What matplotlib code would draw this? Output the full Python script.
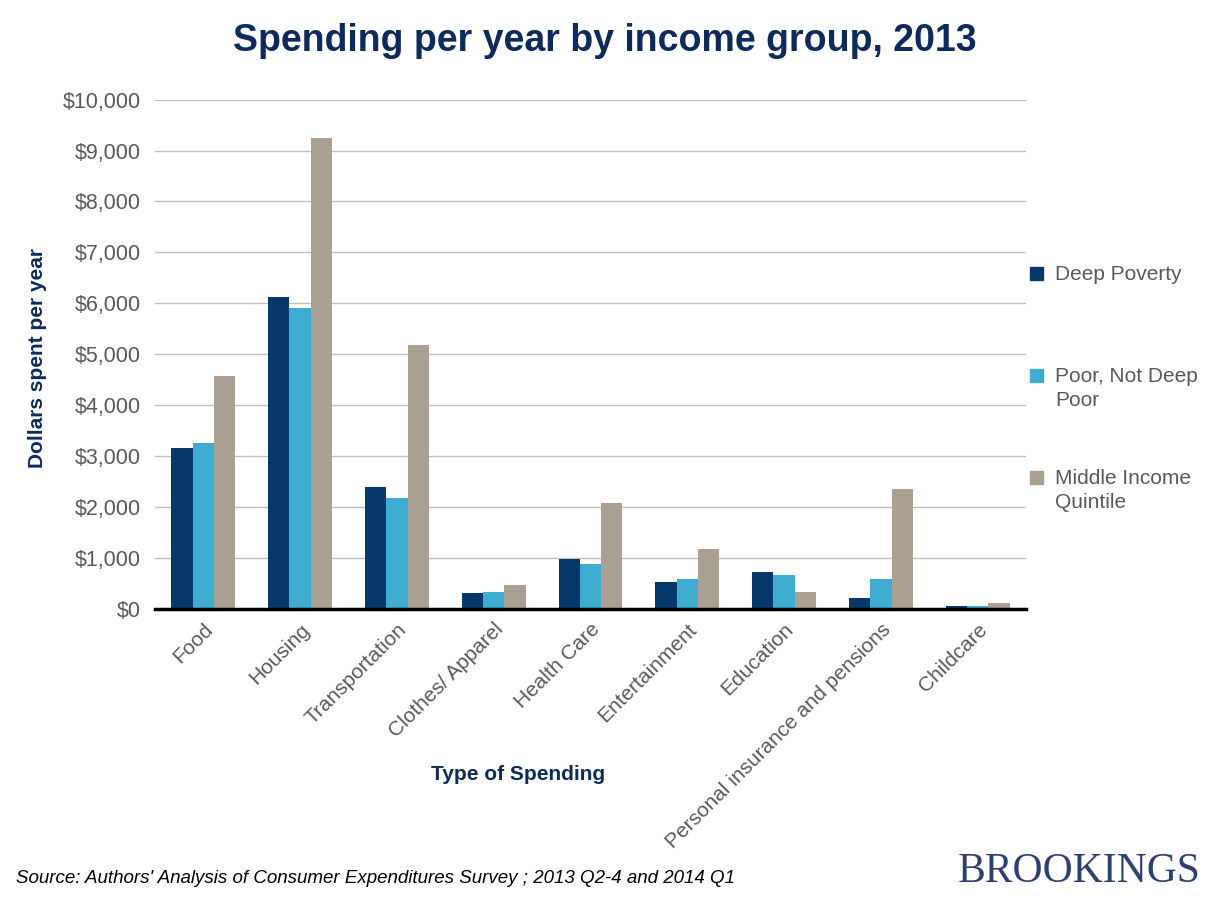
import numpy as np
import matplotlib
matplotlib.use("Agg")
import matplotlib.pyplot as plt
from matplotlib.patches import Rectangle

plt.rcParams['font.family'] = ['Liberation Sans', 'DejaVu Sans']

categories = ['Food', 'Housing', 'Transportation', 'Clothes/ Apparel', 'Health Care',
              'Entertainment', 'Education', 'Personal insurance and pensions', 'Childcare']
series_names = ['Deep Poverty', 'Poor, Not Deep\nPoor', 'Middle Income\nQuintile']
deep_poverty = [3150, 6120, 2400, 314, 982, 530, 727, 216, 59]
poor_not_deep = [3250, 5900, 2170, 334, 884, 590, 668, 590, 50]
middle_income = [4570, 9250, 5180, 470, 2080, 1180, 334, 2360, 118]
yticks = list(range(0, 10001, 1000))

navy = '#0c2a5e'
grey_txt = '#595959'
colors = ['#06386b', '#3eabd0', '#a9a091']

fig = plt.figure(figsize=(12.1, 9.06), dpi=100)
ax = fig.add_axes([0.128, 0.328, 0.72, 0.562])

x = np.arange(len(categories))
w = 0.22
for i, vals in enumerate([deep_poverty, poor_not_deep, middle_income]):
    ax.bar(x + (i - 1) * w, vals, w, color=colors[i], zorder=3)

ax.set_xlim(-0.5, len(categories) - 0.5)
ax.set_ylim(0, 10000)
ax.set_yticks(yticks)
ax.set_yticklabels(['${:,}'.format(v) for v in yticks], fontsize=15.5, color=grey_txt)
ax.set_xticks(x)
ax.set_xticklabels(categories, rotation=45, ha='right', rotation_mode='anchor',
                   fontsize=15, color=grey_txt)
ax.tick_params(axis='y', length=0, pad=10)
ax.tick_params(axis='x', length=0, pad=8)
ax.grid(axis='y', color='#bfbfbf', linewidth=1, zorder=0)
for s in ['top', 'right', 'left']:
    ax.spines[s].set_visible(False)
ax.spines['bottom'].set_linewidth(2.5)
ax.spines['bottom'].set_color('black')
ax.spines['bottom'].set_zorder(4)

fig.text(0.031, 0.605, 'Dollars spent per year', fontsize=15, fontweight='bold', color=navy,
         rotation=90, ha='center', va='center')
fig.text(0.428, 0.139, 'Type of Spending', fontsize=15, fontweight='bold', color=navy, ha='center')

fig.suptitle('Spending per year by income group, 2013', x=0.5, y=0.975, fontsize=27,
             fontweight='bold', color=navy)

# legend drawn by hand so the swatch lines up with the first text line
leg_y = [273, 375, 477]
for i, name in enumerate(series_names):
    yc = 1 - leg_y[i] / 906
    fig.patches.append(Rectangle((1030 / 1210, yc - 6.5 / 906), 13 / 1210, 13 / 906,
                                 transform=fig.transFigure, color=colors[i]))
    fig.text(1055 / 1210, yc + 8 / 906, name, fontsize=15, color=grey_txt, va='top',
             linespacing=1.3)

fig.text(0.013, 0.025, "Source: Authors' Analysis of Consumer Expenditures Survey ; 2013 Q2-4 and 2014 Q1",
         fontsize=13.5, style='italic', color='black')
fig.text(0.992, 0.026, 'BROOKINGS', fontsize=30, family=['Liberation Serif', 'DejaVu Serif'],
         color='#2b3f72', ha='right')

fig.savefig('out.png', dpi=100)
